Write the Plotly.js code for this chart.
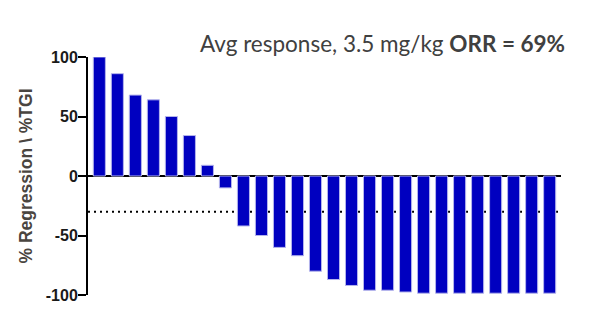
<!DOCTYPE html>
<html>
<head>
<meta charset="utf-8">
<script src="https://cdn.plot.ly/plotly-3.0.1.min.js"></script>
<style>html,body{margin:0;padding:0;background:#fff;}#chart{width:604px;height:331px;}</style>
</head>
<body>
<div id="chart"></div>
<script>
const subjects = Array.from({length: 26}, (_, i) => i + 1);
const responses = [100, 86, 68, 64, 50, 34, 9, -10, -42, -50, -60, -67, -80, -87, -92, -96, -96, -97.5, -98.5, -98.5, -98.5, -98.5, -98.5, -98.5, -98.5, -98.5];
const yTicks = [-100, -50, 0, 50, 100];
const threshold = -30;
const titleNormal = "Avg response, 3.5 mg/kg ";
const titleBold = "ORR = 69%";
const yTitle = "% Regression \\ %TGI";

const trace = {
  type: 'bar',
  x: subjects,
  y: responses,
  width: 0.67,
  marker: {color: '#0000c0', line: {color: '#b4b4ec', width: 1}},
  hoverinfo: 'none'
};

const layout = {
  width: 604, height: 331,
  margin: {l: 88, r: 43, t: 57, b: 36},
  paper_bgcolor: '#fff', plot_bgcolor: '#fff',
  showlegend: false,
  xaxis: {
    range: [0.37, 26.63], showgrid: false, zeroline: false, showline: false,
    showticklabels: false, ticks: ''
  },
  yaxis: {
    range: [-100, 100], tickvals: yTicks, ticktext: yTicks.map(String),
    showgrid: false, showline: true, linecolor: '#000', linewidth: 2,
    ticks: 'outside', ticklen: 8, tickwidth: 2, tickcolor: '#000',
    ticklabelstandoff: -3,
    zeroline: true, zerolinecolor: '#000', zerolinewidth: 2.5,
    tickfont: {family: 'Liberation Sans', size: 16, color: '#1a1a1a', weight: 'bold'},
    title: {text: yTitle, standoff: 9, font: {family: 'Liberation Sans', size: 17.5, color: '#4a4540', weight: 'bold'}}
  },
  shapes: [{
    type: 'line', xref: 'paper', x0: 0, x1: 1, yref: 'y', y0: threshold, y1: threshold,
    line: {color: '#000', width: 2, dash: '2px,4px'}, layer: 'below'
  }],
  annotations: [{
    xref: 'paper', yref: 'paper', x: 1.013, y: 1.055, xanchor: 'right', yanchor: 'middle',
    showarrow: false,
    text: titleNormal + '<b>' + titleBold + '</b>',
    font: {family: 'Lato', size: 22.5, color: '#404040'}
  }]
};

Plotly.newPlot('chart', [trace], layout, {staticPlot: true, displayModeBar: false});
</script>
</body>
</html>
